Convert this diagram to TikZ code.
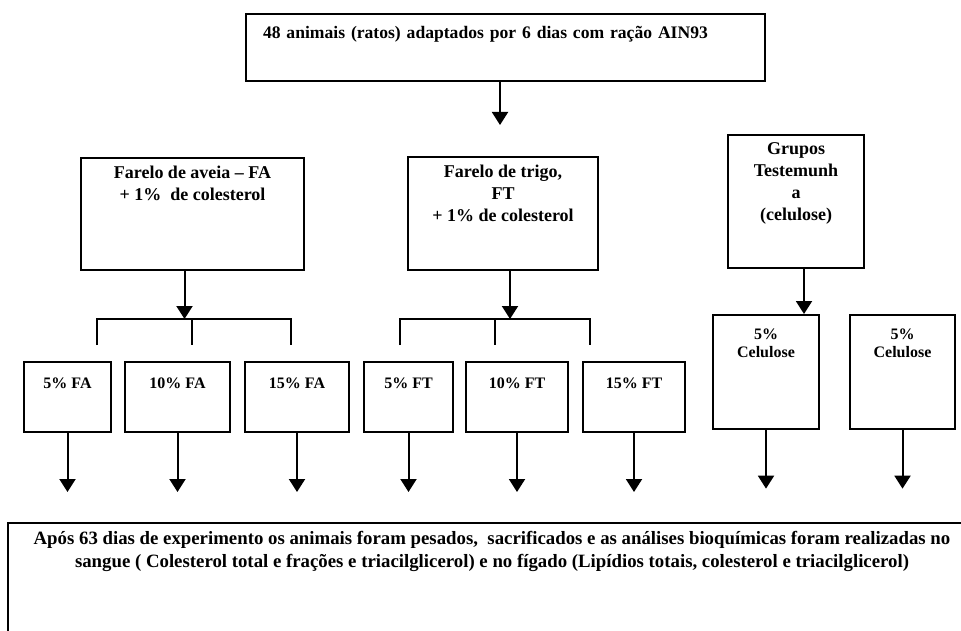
\documentclass[tikz,border=0pt]{standalone}
\usepackage{fontspec}
\setmainfont{Liberation Serif}
\usetikzlibrary{arrows.meta, positioning}

\begin{document}
\begin{tikzpicture}[
  x=0.5pt, y=-0.5pt,
  box/.style   = {draw, line width=1pt, anchor=north west, align=center,
                  inner xsep=2pt, inner ysep=4pt,
                  font=\fontsize{9}{11}\selectfont\bfseries},
  dose/.style  = {box, inner ysep=7pt, text height=6pt, text depth=15pt,
                  font=\fontsize{8}{10}\selectfont\bfseries},
  cel/.style   = {box, inner ysep=7pt, text depth=28.5pt,
                  font=\fontsize{8}{9}\selectfont\bfseries},
  arrow/.style = {line width=1pt, -{Triangle[length=6.5pt,width=8pt]}},
  bar/.style   = {line width=1pt}
]
\useasboundingbox (0,0) rectangle (961,630);
\clip (0,0) rectangle (961,630);

% top and groups
\node[box, align=left, text width=242.5pt, inner xsep=8.5pt, inner ysep=6.5pt,
      text height=6pt, text depth=14.5pt, font=\fontsize{8.8}{10}\selectfont\bfseries]
      (start) at (245,13) {48 animais (ratos) adaptados por 6 dias com ração AIN93};
\node[box, minimum width=111.5pt, text depth=31pt] (fa) at (80,157)
      {Farelo de aveia -- FA\\+ 1\%\ \ de colesterol};
\node[box, minimum width=95pt, text depth=20.5pt] (ft) at (407,156)
      {Farelo de trigo,\\FT\\+ 1\% de colesterol};
\node[box, minimum width=68pt, text depth=19.5pt] (grp) at (727,134)
      {Grupos\\Testemunh\\a\\(celulose)};

% doses
\node[dose, minimum width=43.5pt] (a5)  at (23,361)  {5\% FA};
\node[dose, minimum width=52.5pt] (a10) at (124,361) {10\% FA};
\node[dose, minimum width=52pt]   (a15) at (244,361) {15\% FA};
\node[dose, minimum width=44.5pt] (t5)  at (363,361) {5\% FT};
\node[dose, minimum width=51pt]   (t10) at (465,361) {10\% FT};
\node[dose, minimum width=51pt]   (t15) at (582,361) {15\% FT};
\node[cel, minimum width=53pt]    (c1)  at (712,314) {5\%\\Celulose};
\node[cel, minimum width=52.5pt]  (c2)  at (849,314) {5\%\\Celulose};

\node[box, minimum width=484pt, text depth=60pt,
      font=\fontsize{9.4}{11.5}\selectfont\bfseries] (end) at (7,522)
      {Após 63 dias de experimento os animais foram pesados,\ \ sacrificados e as análises bioquímicas foram realizadas no\\
       sangue ( Colesterol total e frações e triacilglicerol) e no fígado (Lipídios totais, colesterol e triacilglicerol)};

% brackets
\coordinate (brAl) at (97,319);
\coordinate (brAm) at (192,319);
\coordinate (brAr) at (291,319);
\coordinate (brTl) at (400,319);
\coordinate (brTm) at (495,319);
\coordinate (brTr) at (590,319);
\draw[bar] ([yshift=-13pt]brAl) -- (brAl) -- (brAr) -- ([yshift=-13pt]brAr);
\draw[bar] (brAm) -- ([yshift=-13pt]brAm);
\draw[bar] ([yshift=-13pt]brTl) -- (brTl) -- (brTr) -- ([yshift=-13pt]brTr);
\draw[bar] (brTm) -- ([yshift=-13pt]brTm);

% arrows
\coordinate (tip) at (500,125);
\draw[arrow] (start.south -| tip) -- (tip);
\draw[arrow] ([xshift=-4pt]fa.south) -- ([xshift=-4pt]fa.south |- brAm);
\draw[arrow] ([xshift=3.5pt]ft.south) -- ([xshift=3.5pt]ft.south |- brTm);
\draw[arrow] ([xshift=4pt]grp.south) -- ([xshift=4pt]grp.south |- c1.north);
\foreach \n in {a5,a10,a15,t5,t10,t15,c1,c2}
  \draw[arrow] (\n.south) -- ++(0,59);

\end{tikzpicture}
\end{document}
